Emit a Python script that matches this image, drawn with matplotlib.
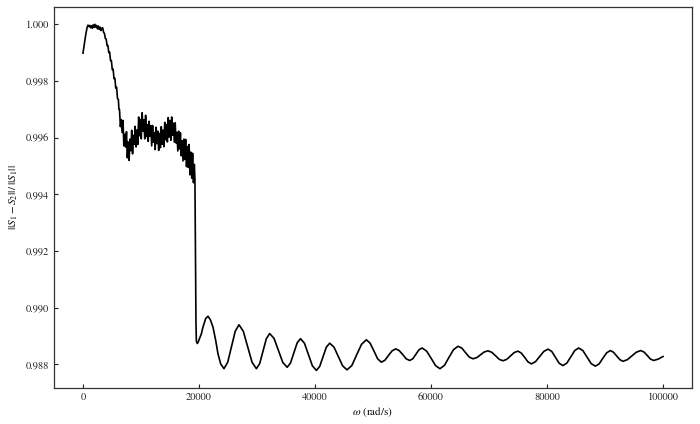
import numpy as np
import matplotlib
matplotlib.use("Agg")
import matplotlib.pyplot as plt
from matplotlib.ticker import FormatStrFormatter

# ---- data ----
omega_start = [0, 200, 450, 700, 860, 1000, 1150, 1300, 1450, 1600, 1750, 1900, 2050,
               2200, 2350, 2500, 2650, 2800, 2950, 3100, 3250]
diff_start = [0.99898, 0.99925, 0.99960, 0.99988, 0.99997, 0.99992, 0.99996, 0.99988,
              0.99995, 0.99986, 0.99998, 0.99989, 1.00000, 0.99990, 0.99996, 0.99984,
              0.99994, 0.99982, 0.99990, 0.99978, 0.99986]

omega_decline = [3400, 3550, 3700, 3850, 4000, 4150, 4300, 4450, 4600, 4750, 4900, 5050,
                 5200, 5350, 5500, 5650, 5800, 5950, 6100, 6200]
diff_decline = [0.99988, 0.99972, 0.99968, 0.99950, 0.99948, 0.99925, 0.99925, 0.99900,
                0.99902, 0.99872, 0.99872, 0.99840, 0.99842, 0.99808, 0.99810, 0.99775,
                0.99778, 0.99738, 0.99735, 0.99700]

omega_noisy = [6300, 6450, 6600, 6750, 6900, 7050, 7200, 7350, 7500, 7650, 7800, 7950,
               8100, 8250, 8400, 8550, 8700, 8850, 9000, 9150, 9300, 9450, 9600, 9750,
               9900, 10050, 10200, 10350, 10500, 10650, 10800, 10950, 11100, 11250,
               11400, 11550, 11700, 11850, 12000, 12150, 12300, 12450, 12600, 12750,
               12900, 13050, 13200, 13350, 13500, 13650, 13800, 13950, 14100, 14250,
               14400, 14550, 14700, 14850, 15000, 15150, 15300, 15450, 15600, 15750,
               15900, 16050, 16200, 16350, 16500, 16650, 16800, 16950, 17100, 17250,
               17400, 17550, 17700, 17850, 18000, 18150, 18300, 18450, 18600, 18750,
               18900, 19050, 19200]
diff_noisy = [0.99699, 0.99639, 0.99664, 0.99618, 0.99661, 0.99571, 0.99612, 0.99567,
              0.99621, 0.99529, 0.99585, 0.99520, 0.99595, 0.99554, 0.99626, 0.99543,
              0.99608, 0.99577, 0.99640, 0.99567, 0.99627, 0.99576, 0.99673, 0.99607,
              0.99664, 0.99596, 0.99688, 0.99623, 0.99663, 0.99596, 0.99679, 0.99604,
              0.99646, 0.99587, 0.99658, 0.99605, 0.99642, 0.99571, 0.99643, 0.99584,
              0.99618, 0.99558, 0.99637, 0.99579, 0.99623, 0.99555, 0.99615, 0.99565,
              0.99639, 0.99577, 0.99627, 0.99568, 0.99654, 0.99593, 0.99646, 0.99585,
              0.99671, 0.99602, 0.99661, 0.99591, 0.99673, 0.99609, 0.99651, 0.99584,
              0.99653, 0.99581, 0.99619, 0.99553, 0.99623, 0.99560, 0.99617, 0.99536,
              0.99589, 0.99518, 0.99595, 0.99523, 0.99594, 0.99498, 0.99569, 0.99495,
              0.99576, 0.99469, 0.99549, 0.99457, 0.99545, 0.99441, 0.99506]

omega_drop = [19300, 19400, 19480, 19550, 19700, 19850, 20100, 20410, 20690, 21160,
              21550, 21960, 22410, 22880, 23270, 23740]
diff_drop = [0.99455, 0.99200, 0.98950, 0.98882, 0.98874, 0.98878, 0.98892, 0.98908,
             0.98932, 0.98962, 0.98970, 0.98958, 0.98932, 0.98885, 0.98838, 0.98802]

omega_osc = [24308, 24955, 25601, 26248, 26894, 27644, 28394, 29144, 29894, 30467, 31041,
             31614, 32187, 32941, 33696, 34450, 35204, 35777, 36351, 36924, 37497, 38182,
             38868, 39553, 40238, 40811, 41385, 41958, 42531, 43277, 44023, 44768, 45514,
             46350, 47186, 48022, 48858, 49505, 50151, 50798, 51444, 52060, 52677, 53293,
             53909, 54513, 55116, 55720, 56323, 56862, 57401, 57939, 58478, 59245, 60013,
             60780, 61547, 62323, 63099, 63874, 64650, 65297, 65943, 66590, 67236, 67883,
             68529, 69176, 69822, 70469, 71115, 71762, 72408, 73055, 73701, 74348, 74994,
             75572, 76149, 76727, 77304, 78020, 78735, 79451, 80166, 80813, 81459, 82106,
             82752, 83429, 84106, 84782, 85459, 86179, 86899, 87618, 88338, 88985, 89631,
             90278, 90924, 91467, 92010, 92553, 93096, 93859, 94622, 95384, 96147, 96708,
             97268, 97829, 98389, 99200, 100000]
diff_osc = [0.98785, 0.98808, 0.98863, 0.98917, 0.98940, 0.98917, 0.98863, 0.98808,
            0.98785, 0.98803, 0.98847, 0.98891, 0.98909, 0.98892, 0.98850, 0.98807,
            0.98790, 0.98805, 0.98841, 0.98876, 0.98891, 0.98875, 0.98835, 0.98795,
            0.98779, 0.98793, 0.98827, 0.98861, 0.98875, 0.98861, 0.98828, 0.98795,
            0.98781, 0.98796, 0.98834, 0.98871, 0.98887, 0.98875, 0.98848, 0.98820,
            0.98808, 0.98815, 0.98832, 0.98848, 0.98855, 0.98849, 0.98835, 0.98820,
            0.98814, 0.98820, 0.98836, 0.98852, 0.98858, 0.98847, 0.98822, 0.98796,
            0.98785, 0.98797, 0.98825, 0.98852, 0.98864, 0.98858, 0.98842, 0.98826,
            0.98820, 0.98824, 0.98834, 0.98844, 0.98848, 0.98843, 0.98831, 0.98818,
            0.98813, 0.98818, 0.98830, 0.98842, 0.98847, 0.98840, 0.98825, 0.98809,
            0.98802, 0.98810, 0.98828, 0.98846, 0.98854, 0.98846, 0.98825, 0.98804,
            0.98796, 0.98805, 0.98827, 0.98849, 0.98858, 0.98849, 0.98826, 0.98803,
            0.98794, 0.98802, 0.98822, 0.98841, 0.98849, 0.98843, 0.98830, 0.98817,
            0.98811, 0.98817, 0.98830, 0.98843, 0.98849, 0.98844, 0.98832, 0.98819,
            0.98814, 0.98819, 0.98828]

x_ticks = [0, 20000, 40000, 60000, 80000, 100000]
y_ticks = [0.988, 0.990, 0.992, 0.994, 0.996, 0.998, 1.000]

omega = np.concatenate([omega_start, omega_decline, omega_noisy, omega_drop, omega_osc])
diff = np.concatenate([diff_start, diff_decline, diff_noisy, diff_drop, diff_osc])

# ---- style ----
plt.rcParams['font.family'] = ['STIXGeneral', 'DejaVu Serif']
plt.rcParams['mathtext.fontset'] = 'stix'

fig = plt.figure(figsize=(7.0, 4.24), dpi=100)
ax = fig.add_axes([0.0771, 0.0856, 0.9115, 0.8979])
ax.plot(omega, diff, color='black', linewidth=1.2)

ax.set_xticks(x_ticks)
ax.set_yticks(y_ticks)
ax.yaxis.set_major_formatter(FormatStrFormatter('%.3f'))
ax.tick_params(direction='in', length=3, width=0.8, labelsize=7.5, colors='#222222')
for s in ax.spines.values():
    s.set_linewidth(0.9)
    s.set_color('#333333')

ax.set_xlabel(r'$\omega$ (rad/s)', fontsize=8, labelpad=2)
ax.set_ylabel(r'$||S_1 - S_2||\,/\,||S_1||$', fontsize=8)

fig.savefig('out.png', dpi=100)
